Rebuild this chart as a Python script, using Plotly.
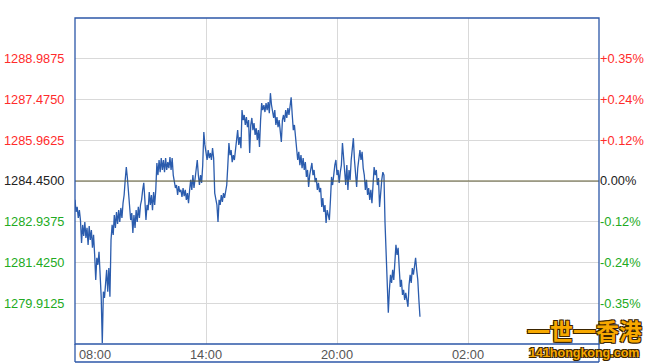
import pandas as pd
import plotly.graph_objects as go

# ---- data ----
prev_close = 1284.45
prices = [
    1283.75, 1283.30, 1283.49, 1283.08, 1283.37, 1283.00, 1282.15, 1282.82, 1282.41, 1282.93,
    1282.34, 1282.71, 1282.08, 1282.78, 1282.26, 1282.63, 1281.97, 1282.45, 1281.71, 1280.78,
    1281.60, 1281.34, 1281.82, 1281.08, 1280.15, 1278.44, 1280.34, 1280.11, 1280.59, 1281.15,
    1280.34, 1281.22, 1280.15, 1282.26, 1282.82, 1282.45, 1283.19, 1282.71, 1283.30, 1282.86,
    1283.37, 1282.93, 1283.45, 1283.08, 1283.63, 1283.93, 1284.49, 1284.97, 1284.56, 1284.12,
    1283.56, 1283.00, 1283.26, 1282.52, 1283.19, 1282.71, 1283.37, 1282.93, 1283.49, 1283.08,
    1283.56, 1283.75, 1284.12, 1284.38, 1283.75, 1283.00, 1283.56, 1283.37, 1284.04, 1283.56,
    1283.93, 1283.37, 1284.04, 1283.56, 1284.12, 1285.12, 1284.67, 1285.23, 1284.78, 1285.30,
    1284.86, 1285.23, 1284.78, 1285.30, 1284.86, 1285.15, 1284.93, 1285.34, 1284.86, 1285.30,
    1284.67, 1284.49, 1284.19, 1284.30, 1283.93, 1284.26, 1284.04, 1284.12, 1283.86, 1284.19,
    1283.89, 1284.12, 1283.75, 1284.00, 1283.63, 1284.12, 1284.49, 1284.12, 1284.67, 1284.19,
    1284.49, 1284.93, 1285.23, 1284.67, 1284.30, 1284.67, 1284.38, 1285.04, 1286.27, 1285.79,
    1285.41, 1285.23, 1285.60, 1285.30, 1285.49, 1285.23, 1285.67, 1285.30, 1284.00, 1283.82,
    1283.56, 1282.93, 1283.75, 1283.56, 1283.93, 1283.67, 1284.00, 1283.82, 1284.12, 1284.30,
    1285.04, 1285.86, 1285.41, 1285.60, 1285.15, 1285.41, 1285.23, 1285.67, 1286.04, 1286.34,
    1285.79, 1286.08, 1285.67, 1287.08, 1286.71, 1286.90, 1286.53, 1286.82, 1286.45, 1286.71,
    1285.49, 1286.53, 1286.79, 1286.34, 1286.60, 1286.16, 1286.41, 1285.97, 1286.34, 1285.71,
    1286.71, 1287.34, 1287.08, 1287.27, 1287.01, 1287.34, 1287.08, 1287.38, 1286.97, 1287.71,
    1287.27, 1287.01, 1286.79, 1287.08, 1286.53, 1286.82, 1286.45, 1286.71, 1286.34, 1285.90,
    1286.71, 1286.90, 1286.64, 1287.08, 1286.79, 1287.16, 1286.90, 1287.34, 1287.56, 1286.90,
    1286.34, 1286.53, 1285.97, 1285.71, 1285.23, 1285.53, 1285.04, 1285.41, 1284.93, 1285.30,
    1284.86, 1285.15, 1284.60, 1284.86, 1284.23, 1284.67, 1284.93, 1285.12, 1284.67, 1284.86,
    1284.41, 1284.56, 1284.12, 1284.38, 1284.04, 1284.19, 1283.49, 1283.82, 1283.30, 1283.56,
    1282.89, 1283.37, 1283.19, 1283.00, 1283.75, 1284.60, 1284.30, 1284.86, 1285.04, 1285.23,
    1284.67, 1284.86, 1284.38, 1284.78, 1285.04, 1285.86, 1285.41, 1285.04, 1284.30, 1285.04,
    1284.12, 1284.86, 1284.49, 1285.23, 1285.60, 1286.04, 1285.23, 1284.67, 1284.23, 1284.93,
    1285.30, 1285.60, 1285.23, 1285.53, 1284.93, 1284.67, 1284.12, 1284.49, 1283.93, 1284.19,
    1283.75, 1284.12, 1283.63, 1284.49, 1284.97, 1284.67, 1284.86, 1284.30, 1284.56, 1283.49,
    1284.12, 1284.49, 1284.78, 1284.67, 1282.89, 1281.52, 1280.59, 1279.56, 1280.41, 1280.97,
    1280.67, 1281.15, 1280.78, 1281.45, 1282.08, 1281.71, 1281.97, 1281.22, 1280.52, 1280.78,
    1280.22, 1280.41, 1280.04, 1280.30, 1279.96, 1279.78, 1280.59, 1280.97, 1280.67, 1281.22,
    1280.97, 1281.45, 1281.60, 1281.15, 1280.78, 1280.04, 1279.41,
]
start_time = "2000-01-01 08:00"
end_time = "2000-01-02 08:00"
step = "3min"

y_tickvals = [1279.9125, 1281.4250, 1282.9375, 1284.4500, 1285.9625, 1287.4750, 1288.9875]
y_left_text = ["1279.9125", "1281.4250", "1282.9375", "1284.4500", "1285.9625", "1287.4750", "1288.9875"]
y_right_text = ["-0.35%", "-0.24%", "-0.12%", "0.00%", "+0.12%", "+0.24%", "+0.35%"]
y_range = [1278.40, 1290.50]

x_tickvals = ["2000-01-01 08:00", "2000-01-01 14:00", "2000-01-01 20:00", "2000-01-02 02:00"]
x_ticktext = ["08:00", "14:00", "20:00", "02:00"]

# ---- styles ----
RED = "#ff2b2b"
GREEN = "#22aa22"
BLACK = "#222222"
FRAME = "#2c57a8"
LINE = "#2b5cad"
GRID = "#d9d9d9"
FONT = "Liberation Sans, Arial, sans-serif"
L, R, T, B = 75, 51, 18, 19
PW, PH = 650 - L - R, 363 - T - B


def colour_for(v):
    if abs(v - prev_close) < 1e-6:
        return BLACK
    return RED if v > prev_close else GREEN


left_text = [f'<span style="color:{colour_for(v)}">{t}</span>' for v, t in zip(y_tickvals, y_left_text)]
right_text = [f'<span style="color:{colour_for(v)}">{t}</span>' for v, t in zip(y_tickvals, y_right_text)]

times = pd.date_range(start_time, periods=len(prices), freq=step)

fig = go.Figure()
fig.add_trace(go.Scatter(x=times, y=prices, mode="lines",
                         line=dict(color=LINE, width=1.3), showlegend=False,
                         hoverinfo="skip"))
# invisible trace to bind the right axis
fig.add_trace(go.Scatter(x=[times[0]], y=[prev_close], yaxis="y2", mode="markers",
                         marker=dict(opacity=0), showlegend=False, hoverinfo="skip"))

fig.update_layout(
    width=650, height=363,
    margin=dict(l=L, r=R, t=T, b=B, autoexpand=False),
    paper_bgcolor="white", plot_bgcolor="white",
    font=dict(family=FONT, size=12.5, color="#555555"),
    xaxis=dict(type="date", range=[start_time, end_time], automargin=False,
               tickvals=x_tickvals, showticklabels=False,
               showgrid=True, gridcolor=GRID, gridwidth=1,
               zeroline=False, showline=False, ticks=""),
    yaxis=dict(range=y_range, tickvals=y_tickvals, ticktext=left_text, automargin=False,
               showgrid=True, gridcolor=GRID, gridwidth=1, zeroline=False,
               showline=False, ticks="outside", ticklen=7, tickcolor="rgba(0,0,0,0)",
               tickfont=dict(family=FONT, size=12.8)),
    yaxis2=dict(range=y_range, tickvals=y_tickvals, ticktext=right_text, automargin=False,
                overlaying="y", side="right", showgrid=False, zeroline=False,
                showline=False, ticks="", tickfont=dict(family=FONT, size=12.8)),
)

# previous-close reference line
fig.add_shape(type="line", xref="paper", yref="y", x0=0, x1=1, y0=prev_close, y1=prev_close,
              line=dict(color="#5e5a32", width=1))

# frame
bottom_y = -18 / PH
fig.add_shape(type="rect", xref="paper", yref="paper", x0=0, x1=1, y0=0, y1=1,
              line=dict(color=FRAME, width=1.3))
fig.add_shape(type="line", xref="paper", yref="paper", x0=0, x1=0, y0=bottom_y, y1=0,
              line=dict(color=FRAME, width=1.3))
fig.add_shape(type="line", xref="paper", yref="paper", x0=0, x1=1, y0=bottom_y, y1=bottom_y,
              line=dict(color=FRAME, width=1.3))
fig.add_shape(type="line", xref="paper", yref="paper", x0=1, x1=1, y0=bottom_y, y1=0,
              line=dict(color=FRAME, width=1.3))

# x tick labels
for i, (tv, tt) in enumerate(zip(x_tickvals, x_ticktext)):
    fig.add_annotation(x=tv, y=0, xref="x", yref="paper", text=tt, showarrow=False,
                       xanchor="left" if i == 0 else "center", yanchor="top",
                       xshift=2 if i == 0 else 0, yshift=-1,
                       font=dict(family=FONT, size=12.8, color="#555555"))

# watermark (positions given in page pixels, converted to paper coords)
outline = "1px 1px 0px #3a2400, -1px -1px 0px #3a2400, 1px -1px 0px #3a2400, -1px 1px 0px #3a2400"
fig.add_annotation(x=(584 - L) / PW, y=(T + PH - 330) / PH, xref="paper", yref="paper",
                   text="<b>一世一香港</b>", showarrow=False, xanchor="center", yanchor="middle",
                   font=dict(family="Noto Sans CJK SC", size=23, color="#f7a800", shadow=outline))
fig.add_annotation(x=(584 - L) / PW, y=(T + PH - 353) / PH, xref="paper", yref="paper",
                   text="<b>141hongkong.com</b>", showarrow=False, xanchor="center", yanchor="middle",
                   font=dict(family=FONT, size=12.5, color="#f7a800", shadow=outline))

fig.write_html("out.html")
